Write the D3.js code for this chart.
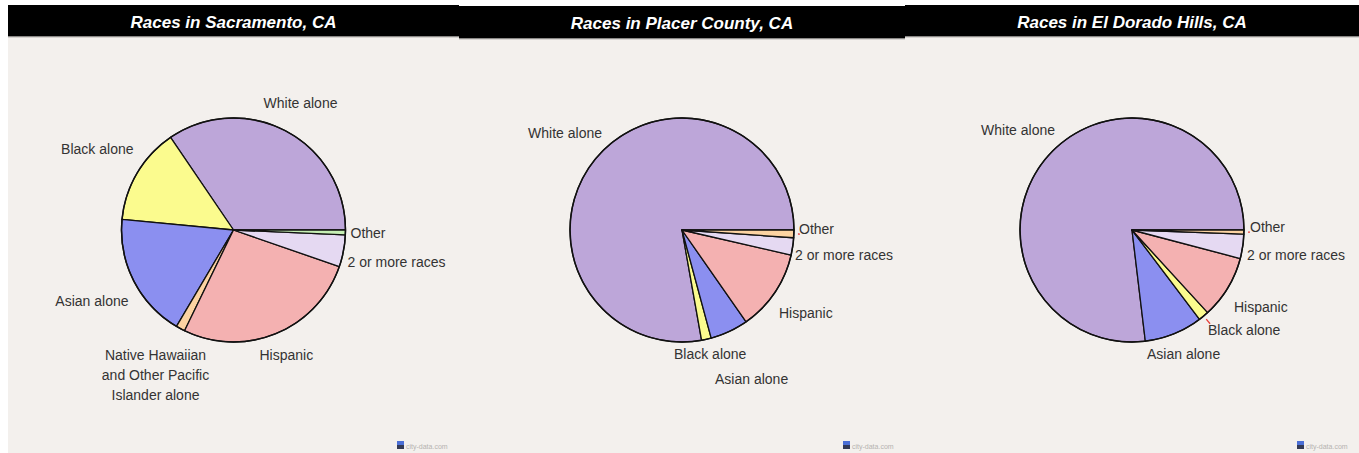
<!DOCTYPE html>
<html>
<head>
<meta charset="utf-8">
<script src="https://cdn.jsdelivr.net/npm/d3@7"></script>
<style>
  html, body { margin: 0; padding: 0; background: #ffffff; }
  svg { display: block; }
</style>
</head>
<body>
<svg id="chart" width="1359" height="453"></svg>
<script>
// ---- data -------------------------------------------------------------
const titles = [
  "Races in Sacramento, CA",
  "Races in Placer County, CA",
  "Races in El Dorado Hills, CA"
];

// Slice order runs counter-clockwise from 3 o'clock.
const sacramentoCategories = ["White alone", "Black alone", "Asian alone",
  "Native Hawaiian and Other Pacific Islander alone", "Hispanic", "2 or more races", "Other"];
const sacramentoValues = [34.5, 14.0, 18.0, 1.3, 26.9, 4.6, 0.7];

const placerCategories = ["White alone", "Black alone", "Asian alone", "Hispanic", "2 or more races", "Other"];
const placerValues = [77.8, 1.4, 5.5, 11.7, 2.5, 1.1];

const elDoradoCategories = ["White alone", "Asian alone", "Black alone", "Hispanic", "2 or more races", "Other"];
const elDoradoValues = [76.9, 8.4, 1.5, 9.1, 3.5, 0.6];

// ---- styling & layout -------------------------------------------------
const sliceColors = {
  "White alone": "#bda6d9",
  "Black alone": "#fbfb8e",
  "Asian alone": "#8b8ff0",
  "Native Hawaiian and Other Pacific Islander alone": "#fcd3a2",
  "Hispanic": "#f4b1b1",
  "2 or more races": "#e5d9f2",
  "Other": "#c6efb4"
};
const otherColorAlt = "#fcd3a2";

// label placement relative to pie centre: [dx, dy(baseline), anchor]
const labelLayouts = [
  {
    "White alone": [67, -122, "middle"],
    "Black alone": [-100, -76, "end"],
    "Asian alone": [-105, 76, "end"],
    "Native Hawaiian and Other Pacific Islander alone": [-78, 130, "middle"],
    "Hispanic": [26, 130, "start"],
    "2 or more races": [114, 37, "start"],
    "Other": [117, 8, "start"]
  },
  {
    "White alone": [-80, -92, "end"],
    "Black alone": [-8, 129, "start"],
    "Asian alone": [33, 154, "start"],
    "Hispanic": [97, 88, "start"],
    "2 or more races": [113, 30, "start"],
    "Other": [117, 4, "start"]
  },
  {
    "White alone": [-77, -95, "end"],
    "Asian alone": [15, 129, "start"],
    "Black alone": [76, 105, "start"],
    "Hispanic": [102, 82, "start"],
    "2 or more races": [115, 30, "start"],
    "Other": [118, 2, "start"]
  }
];
const multiLine = {
  "Native Hawaiian and Other Pacific Islander alone": ["Native Hawaiian", "and Other Pacific", "Islander alone"]
};
// small red leader ticks
const leaders = [[], ["Other"], ["Other", "Black alone"]];

const panels = [
  { x0: 8,   x1: 459,  top: 5, bar: 31 },
  { x0: 459, x1: 905,  top: 6, bar: 32 },
  { x0: 905, x1: 1359, top: 5, bar: 31 }
];

const datasets = [
  { cats: sacramentoCategories, vals: sacramentoValues, altOther: false },
  { cats: placerCategories, vals: placerValues, altOther: true },
  { cats: elDoradoCategories, vals: elDoradoValues, altOther: true }
];

const H = 453;
const radius = 112;
const pieCy = 230;
const fontFamily = "'Liberation Sans', Arial, Helvetica, sans-serif";

const svg = d3.select("#chart");

const pie = d3.pie()
  .sort(null)
  .value(d => d.value)
  .startAngle(Math.PI / 2)
  .endAngle(Math.PI / 2 - 2 * Math.PI);

const arc = d3.arc().innerRadius(0).outerRadius(radius);

panels.forEach((p, i) => {
  const g = svg.append("g");
  const w = p.x1 - p.x0;
  const cx = (p.x0 + p.x1) / 2;

  // panel background
  g.append("rect")
    .attr("x", p.x0).attr("y", p.top)
    .attr("width", w).attr("height", H - p.top)
    .attr("fill", "#f3f0ed");

  // header band
  g.append("rect")
    .attr("x", p.x0).attr("y", p.top)
    .attr("width", w).attr("height", p.bar)
    .attr("fill", "#000");
  g.append("rect")
    .attr("x", p.x0).attr("y", p.top + p.bar)
    .attr("width", w).attr("height", 1)
    .attr("fill", "#8a8886");
  g.append("rect")
    .attr("x", p.x0).attr("y", p.top + p.bar + 1)
    .attr("width", w).attr("height", 1)
    .attr("fill", "#d6d3d0");

  g.append("text")
    .attr("x", cx).attr("y", p.top + 23)
    .attr("text-anchor", "middle")
    .attr("fill", "#fff")
    .style("font-family", fontFamily)
    .style("font-size", "17px")
    .style("font-weight", "bold")
    .style("font-style", "italic")
    .text(titles[i]);

  // pie
  const ds = datasets[i];
  const rows = ds.cats.map((c, k) => ({ cat: c, value: ds.vals[k] }));
  const arcs = pie(rows);
  const pg = g.append("g").attr("transform", `translate(${cx},${pieCy})`);

  pg.selectAll("path.slice")
    .data(arcs)
    .join("path")
    .attr("class", "slice")
    .attr("d", arc)
    .attr("fill", d => (d.data.cat === "Other" && ds.altOther) ? otherColorAlt : sliceColors[d.data.cat])
    .attr("stroke", "#111")
    .attr("stroke-width", 1.3)
    .attr("stroke-linejoin", "round");

  pg.append("circle")
    .attr("r", radius)
    .attr("fill", "none")
    .attr("stroke", "#111")
    .attr("stroke-width", 1.5);

  // leader ticks
  arcs.filter(d => leaders[i].includes(d.data.cat)).forEach(d => {
    const a = (d.startAngle + d.endAngle) / 2;
    const r0 = radius + 4, r1 = d.data.cat === "Other" ? radius + 6 : radius + 10;
    pg.append("line")
      .attr("x1", Math.sin(a) * r0).attr("y1", -Math.cos(a) * r0)
      .attr("x2", Math.sin(a) * r1).attr("y2", -Math.cos(a) * r1)
      .attr("stroke", "#e8403a")
      .attr("stroke-width", 1.3);
  });

  // labels
  const lay = labelLayouts[i];
  arcs.forEach(d => {
    const spec = lay[d.data.cat];
    if (!spec) return;
    const lines = multiLine[d.data.cat] || [d.data.cat];
    const t = pg.append("text")
      .attr("x", spec[0]).attr("y", spec[1])
      .attr("text-anchor", spec[2])
      .attr("fill", "#333")
      .style("font-family", fontFamily)
      .style("font-size", "14px");
    lines.forEach((ln, k) => {
      t.append("tspan")
        .attr("x", spec[0])
        .attr("y", spec[1] + k * 20)
        .text(ln);
    });
  });

  // site mark
  const mx = p.x1 - 62;
  g.append("rect").attr("x", mx).attr("y", 441).attr("width", 7).attr("height", 4).attr("fill", "#4b6fd6");
  g.append("rect").attr("x", mx).attr("y", 445).attr("width", 7).attr("height", 4).attr("fill", "#333a55");
  g.append("text")
    .attr("x", mx + 9).attr("y", 449)
    .attr("fill", "#b5b3b0")
    .style("font-family", fontFamily)
    .style("font-size", "7px")
    .text("city-data.com");
});
</script>
</body>
</html>
